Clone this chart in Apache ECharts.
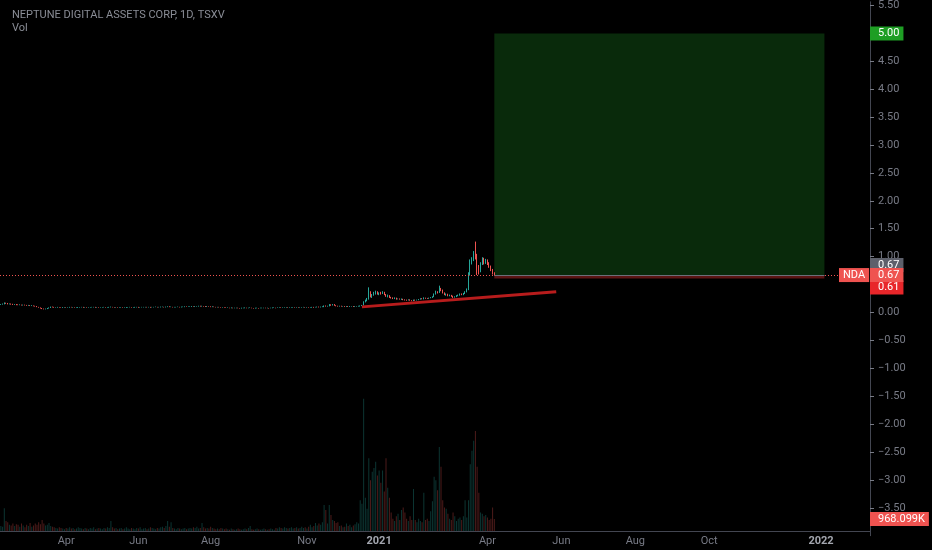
<!DOCTYPE html>
<html><head><meta charset="utf-8">
<script src="https://cdn.jsdelivr.net/npm/echarts/dist/echarts.min.js"></script>
<style>html,body{margin:0;padding:0;background:#000}#c{width:932px;height:550px}</style>
</head><body><div id="c"></div>
<script>
// ---- data ----
const chartTitle = 'NEPTUNE DIGITAL ASSETS CORP, 1D, TSXV';
const volTitle = 'Vol';
// daily candles [open, close, low, high]
const candles = [
[.14,.145,.135,.15],[.145,.15,.14,.16],[.15,.17,.145,.18],[.17,.165,.155,.175],[.165,.15,.145,.17],[.15,.155,.145,.16],[.155,.15,.14,.16],[.15,.14,.135,.155],[.14,.145,.135,.15],[.145,.14,.13,.15],
[.14,.135,.13,.145],[.135,.14,.13,.145],[.14,.13,.125,.14],[.13,.135,.125,.14],[.135,.13,.125,.14],[.13,.125,.12,.135],[.125,.13,.12,.135],[.13,.12,.115,.13],[.12,.125,.115,.13],[.125,.12,.11,.125],
[.12,.11,.105,.12],[.11,.1,.095,.115],[.1,.09,.085,.1],[.09,.075,.07,.09],[.075,.065,.06,.08],[.065,.06,.055,.07],[.06,.065,.055,.07],[.065,.075,.06,.08],[.075,.085,.07,.09],[.085,.1,.08,.105],
[.1,.095,.09,.105],[.095,.09,.085,.1],
[.09,.09,.085,.095],[.09,.095,.085,.1],[.095,.09,.085,.095],[.09,.085,.08,.09],[.085,.09,.08,.095],[.09,.09,.085,.095],[.09,.085,.08,.09],[.085,.09,.085,.095],[.09,.095,.085,.1],[.095,.09,.09,.1],
[.09,.09,.085,.095],[.09,.085,.08,.09],[.085,.085,.08,.09],[.085,.09,.08,.095],[.09,.09,.085,.095],[.09,.095,.09,.1],[.095,.09,.085,.1],[.09,.09,.085,.095],[.09,.085,.08,.09],[.085,.09,.085,.095],
[.09,.09,.085,.095],[.09,.095,.09,.1],[.095,.095,.09,.1],[.095,.09,.085,.1],[.09,.09,.085,.095],[.09,.085,.08,.09],[.085,.09,.085,.095],[.09,.09,.085,.095],[.09,.095,.09,.1],[.095,.09,.085,.095],
[.09,.09,.085,.095],[.09,.095,.085,.1],[.095,.1,.09,.105],[.1,.095,.09,.1],[.095,.09,.085,.095],[.09,.09,.085,.095],[.09,.085,.08,.09],[.085,.09,.085,.095],[.09,.09,.085,.095],[.09,.085,.08,.09],
[.085,.085,.08,.09],[.085,.09,.08,.095],[.09,.09,.085,.095],[.09,.095,.09,.1],[.095,.09,.085,.095],[.09,.09,.085,.095],[.09,.095,.085,.1],[.095,.095,.09,.1],[.095,.09,.085,.1],[.09,.09,.085,.095],
[.09,.095,.09,.1],[.095,.095,.09,.1],[.095,.1,.09,.1],[.1,.095,.09,.1],[.095,.095,.09,.1],[.095,.09,.085,.1],[.09,.095,.09,.1],[.095,.095,.09,.1],[.095,.1,.095,.105],[.1,.095,.09,.1],
[.095,.095,.09,.1],[.095,.1,.09,.105],[.1,.1,.095,.105],[.1,.095,.09,.1],[.095,.1,.09,.105],[.1,.105,.095,.11],[.105,.1,.095,.11],[.1,.1,.095,.105],[.1,.095,.09,.1],[.095,.095,.09,.1],
[.095,.1,.09,.1],[.1,.1,.095,.105],[.1,.095,.09,.1],[.095,.1,.09,.105],[.1,.1,.095,.105],[.1,.105,.095,.11],[.105,.1,.1,.11],[.1,.105,.1,.11],[.105,.105,.1,.11],[.105,.11,.1,.115],
[.11,.105,.1,.11],[.105,.11,.1,.115],[.11,.11,.105,.115],[.11,.115,.105,.12],[.115,.11,.105,.12],[.11,.115,.105,.12],[.115,.11,.105,.115],[.11,.105,.1,.115],[.105,.11,.1,.115],[.11,.105,.1,.11],
[.105,.1,.095,.11],[.1,.105,.095,.11],[.105,.1,.095,.105],[.1,.095,.09,.1],[.095,.1,.09,.1],[.1,.095,.09,.1],[.095,.09,.085,.095],[.09,.095,.085,.095],[.095,.09,.085,.095],[.09,.085,.08,.09],
[.085,.085,.08,.09],[.085,.08,.075,.085],[.08,.085,.075,.09],[.085,.08,.075,.085],[.08,.08,.075,.085],[.08,.085,.075,.085],[.085,.08,.075,.085],[.08,.075,.07,.08],[.075,.08,.07,.085],[.08,.08,.075,.085],
[.08,.085,.075,.09],[.085,.08,.075,.085],[.08,.08,.075,.085],[.08,.085,.08,.09],[.085,.08,.075,.085],[.08,.075,.07,.08],[.075,.08,.07,.085],[.08,.08,.075,.085],[.08,.075,.07,.08],[.075,.08,.075,.085],
[.08,.08,.075,.085],[.08,.085,.075,.085],[.085,.08,.075,.085],[.08,.08,.075,.085],[.08,.075,.07,.08],[.075,.08,.075,.085],[.08,.085,.075,.09],[.085,.085,.08,.09],[.085,.08,.075,.085],[.08,.085,.08,.09],
[.085,.09,.08,.09],[.09,.085,.08,.09],[.085,.085,.08,.09],[.085,.09,.085,.095],[.09,.09,.085,.095],[.09,.085,.08,.09],[.085,.09,.085,.095],[.09,.09,.085,.095],[.09,.095,.085,.095],[.095,.09,.085,.095],
[.09,.09,.085,.095],[.09,.085,.08,.09],[.085,.09,.085,.095],[.09,.09,.085,.095],[.09,.095,.09,.1],[.095,.09,.085,.095],[.09,.09,.085,.095],[.09,.085,.08,.09],[.085,.09,.085,.095],[.09,.095,.085,.1],
[.095,.09,.085,.1],[.09,.095,.09,.1],[.095,.1,.09,.105],[.1,.095,.09,.105],[.095,.1,.09,.105],[.1,.1,.095,.11],[.1,.12,.095,.125],[.12,.11,.105,.125],[.11,.115,.105,.12],[.115,.14,.11,.15],
[.14,.13,.12,.145],[.13,.145,.125,.15],[.145,.125,.12,.15],[.125,.115,.11,.13],[.115,.11,.105,.12],[.11,.115,.105,.12],[.115,.11,.105,.12],[.11,.11,.105,.115],[.11,.105,.1,.115],[.105,.11,.1,.115],
[.11,.105,.1,.115],[.105,.11,.1,.115],[.11,.11,.105,.115],[.11,.105,.1,.115],[.105,.11,.1,.115],[.11,.11,.105,.115],[.11,.11,.105,.12],
[.11,.12,.105,.125],[.12,.13,.115,.135],[.13,.19,.125,.2],[.19,.21,.18,.23],[.21,.24,.2,.26],[.24,.36,.23,.45],[.36,.28,.27,.38],[.28,.31,.26,.33],[.31,.34,.3,.37],[.34,.37,.32,.39],
[.37,.33,.32,.38],[.33,.35,.31,.36],[.35,.34,.32,.37],[.34,.36,.33,.38],[.36,.32,.31,.37],[.32,.29,.28,.33],[.29,.3,.27,.32],[.3,.27,.26,.31],[.27,.26,.25,.28],[.26,.25,.24,.27],
[.25,.26,.24,.27],[.26,.24,.23,.265],[.24,.245,.235,.25],[.245,.235,.23,.25],[.235,.24,.225,.25],[.24,.23,.22,.245],[.23,.225,.215,.235],[.225,.22,.21,.23],[.22,.23,.215,.235],[.23,.215,.21,.235],
[.215,.21,.2,.22],[.21,.225,.205,.23],[.225,.22,.21,.23],[.22,.225,.215,.23],[.225,.235,.22,.24],[.235,.25,.23,.255],[.25,.24,.235,.255],[.24,.26,.235,.27],[.26,.255,.245,.265],[.255,.25,.245,.26],
[.25,.26,.245,.265],[.26,.27,.255,.275],[.27,.28,.26,.29],[.28,.33,.275,.34],[.33,.37,.32,.39],[.37,.36,.34,.38],[.36,.42,.35,.48],[.42,.4,.38,.44],[.4,.35,.34,.41],[.35,.32,.31,.36],
[.32,.33,.3,.34],[.33,.3,.29,.335],[.3,.31,.29,.32],[.31,.29,.28,.315],[.29,.27,.26,.3],[.27,.28,.265,.29],[.28,.3,.275,.31],[.3,.31,.29,.32],[.31,.33,.3,.34],[.33,.32,.31,.34],
[.32,.34,.31,.35],[.34,.37,.33,.38],[.37,.41,.36,.43],[.41,.68,.4,.72],[.68,.9,.66,.95],[.9,.96,.86,.99],[.96,1.05,.92,1.1],[1.05,1.02,.95,1.27],[1.02,.8,.67,1.05],[.8,.74,.68,.85],
[.74,.88,.72,.9],[.88,.95,.85,.99],[.95,.9,.86,.98],[.9,.93,.87,.96],[.93,.88,.85,.95],[.88,.82,.8,.9],[.82,.76,.74,.84],[.76,.7,.68,.78],[.7,.67,.66,.72]
];
// daily volume, thousands of shares
const volumes = [
400,350,1850,800,700,500,450,600,400,550,
500,350,600,450,300,500,400,650,350,450,
600,500,700,550,900,600,450,500,650,400,
350,300,250,200,300,250,200,150,250,200,
300,200,250,150,200,300,250,200,150,250,
200,150,250,200,300,150,200,250,200,150,
250,200,300,250,800,300,200,250,150,200,
250,150,200,300,200,150,250,200,150,250,
200,300,150,200,250,150,200,300,250,200,
150,250,200,300,350,250,400,800,350,700,
250,200,150,250,200,150,200,250,150,200,
250,200,300,250,350,200,250,650,300,200,
250,200,350,250,200,150,200,150,250,200,
150,200,150,100,200,150,100,150,200,150,
100,150,200,150,250,400,150,100,150,200,
150,100,150,200,150,100,150,200,150,100,
250,200,300,250,200,300,250,200,250,300,
200,250,300,200,250,350,250,300,200,350,
500,300,400,650,450,600,500,700,2100,1700,
600,2100,1300,900,800,650,700,400,450,300,
350,600,400,500,300,450,550,700,600,2500,
2200,10700,2700,1800,5900,4100,4800,5100,5600,4500,
4900,3900,4900,3200,5900,3500,2700,1500,1000,800,
1200,1400,900,1700,1900,1500,1000,800,1200,900,
3400,900,700,1000,800,700,3100,900,1000,800,
1600,2400,4400,4100,3300,6800,5200,2500,1900,1800,
1400,1000,900,1500,1200,800,1000,1100,900,1200,
2500,1100,2500,5400,6500,7300,8100,5200,3100,1500,
1400,1200,1300,1100,900,1000,1900,968.099
];
// x-axis tick labels at bar slots
const xTicks = [[38,'Apr'],[80,'Jun'],[122,'Aug'],[178,'Nov'],[220,'2021'],[283,'Apr'],[326,'Jun'],[369,'Aug'],[412,'Oct'],[477,'2022']];
const totalSlots = 506;             // bars + empty future space
const lastPrice = 0.67, targetPrice = 5.00, stopPrice = 0.61;
const lastVolumeK = 968.099;
const positionFrom = 287, positionTo = 479;
const trendFrom = [210, 0.10], trendTo = [323, 0.37];
const tickerName = 'NDA';

// ---- chart ----
const UP = '#26a69a', DOWN = '#ef5350';
const cats = Array.from({length: totalSlots}, (_, i) => String(i));
const tickMap = new Map(xTicks);
const fmt = v => (v < 0 ? '\u2212' : '') + Math.abs(v).toFixed(2);
const FONT = 'Roboto, "Open Sans", sans-serif';
const boxLabel = (text, bg, extra) => Object.assign({
  show: true, position: 'end', distance: 0, formatter: text,
  backgroundColor: bg, color: '#fff', fontSize: 11, fontFamily: FONT,
  padding: [1, 4, 0, 8], lineHeight: 13
}, extra || {});
const hidden = {color: 'rgba(0,0,0,0)', width: 0};

const volData = volumes.map((v, i) => ({
  value: v,
  itemStyle: {color: candles[i][1] >= candles[i][0] ? 'rgba(38,166,154,0.32)' : 'rgba(239,83,80,0.32)'}
}));

const chart = echarts.init(document.getElementById('c'), null, {renderer: 'canvas'});
chart.setOption({
  backgroundColor: '#000',
  animation: false,
  textStyle: {fontFamily: FONT},
  title: [
    {text: chartTitle, left: 7, top: 5, textStyle: {fontSize: 11, color: '#8a8d96', fontWeight: 'normal', fontFamily: FONT}},
    {text: volTitle, left: 7, top: 18, textStyle: {fontSize: 11, color: '#8a8d96', fontWeight: 'normal', fontFamily: FONT}}
  ],
  grid: [
    {left: 0, right: 62, top: 0, bottom: 14.3},
    {left: 0, right: 62, top: 0, bottom: 19}
  ],
  xAxis: [
    {type: 'category', gridIndex: 0, data: cats, show: false},
    {type: 'category', gridIndex: 1, data: cats,
     axisLine: {lineStyle: {color: '#434651'}},
     axisTick: {alignWithLabel: true, interval: i => tickMap.has(i), length: 3, lineStyle: {color: '#434651'}},
     axisLabel: {interval: i => tickMap.has(i), margin: 5, fontSize: 11, color: '#787b86',
       formatter: (v, i) => { const t = tickMap.get(Number(v)) || ''; return /^\d{4}$/.test(t) ? '{b|' + t + '}' : t; },
       rich: {b: {color: '#a3a6af', fontSize: 11, fontWeight: 'bold'}}}
    }
  ],
  yAxis: [
    {type: 'value', gridIndex: 0, position: 'right', min: -4, max: 5.566, interval: 0.5,
     splitLine: {show: false},
     axisLine: {show: true, lineStyle: {color: '#434651'}},
     axisTick: {show: true, length: 4, lineStyle: {color: '#787b86'}},
     axisLabel: {margin: 8, fontSize: 11, color: '#787b86', showMaxLabel: false, showMinLabel: false,
       formatter: v => (v > 5.5 || v < -3.5) ? '' : fmt(v)}},
    {type: 'value', gridIndex: 1, min: 0, max: 43000, show: false}
  ],
  series: [
    {type: 'bar', xAxisIndex: 1, yAxisIndex: 1, data: volData, barWidth: 1, silent: true,
     markLine: {symbol: 'none', silent: true, data: [
       {yAxis: lastVolumeK, lineStyle: hidden, label: boxLabel(lastVolumeK.toFixed(3) + 'K', '#ef5350')}
     ]}},
    {type: 'candlestick', xAxisIndex: 0, yAxisIndex: 0, data: candles, barWidth: 1, silent: true, z: 3,
     itemStyle: {color: UP, color0: DOWN, borderColor: UP, borderColor0: DOWN, borderWidth: 1},
     markArea: {silent: true, data: [
       [{xAxis: positionFrom, yAxis: lastPrice, itemStyle: {color: '#092a0b'}}, {xAxis: positionTo, yAxis: targetPrice}],
       [{xAxis: positionFrom, yAxis: stopPrice, itemStyle: {color: '#5c1414'}}, {xAxis: positionTo, yAxis: lastPrice}]
     ]},
     markLine: {symbol: 'none', silent: true, data: [
       {yAxis: lastPrice, lineStyle: hidden, label: boxLabel(fmt(lastPrice), '#5d606b', {offset: [0, -10]})},
       {yAxis: stopPrice, lineStyle: hidden, label: boxLabel(fmt(stopPrice), '#e8262a', {offset: [0, 9]})},
       {yAxis: lastPrice, lineStyle: {color: '#ef5350', type: [1, 2], width: 1}, label: boxLabel(fmt(lastPrice), '#ef5350')},
       {yAxis: lastPrice, lineStyle: hidden, label: boxLabel(tickerName, '#ef5350', {offset: [-31, 0], padding: [1, 4, 0, 4]})},
       {yAxis: targetPrice, lineStyle: hidden, label: boxLabel(fmt(targetPrice), '#1e9e24')},
       [{coord: [positionFrom, lastPrice], lineStyle: {color: '#6b6f7a', type: 'solid', width: 1}, label: {show: false}},
        {coord: [positionTo, lastPrice]}],
       [{coord: trendFrom, lineStyle: {color: '#b71c1c', type: 'solid', width: 3}, label: {show: false}},
        {coord: trendTo}]
     ]}}
  ]
});
</script>
</body></html>
